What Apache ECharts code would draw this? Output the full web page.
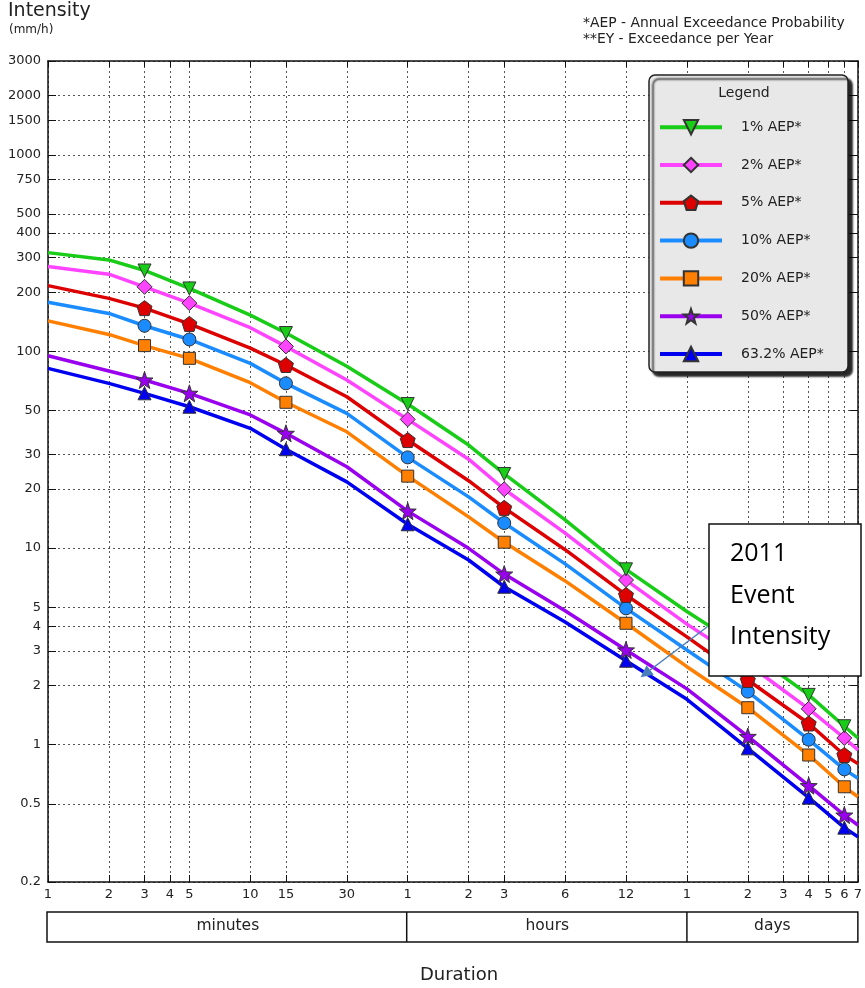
<!DOCTYPE html>
<html><head><meta charset="utf-8">
<script src="https://cdn.jsdelivr.net/npm/echarts@6/dist/echarts.min.js"></script>
<style>html,body{margin:0;padding:0;background:#fff}#c{width:865px;height:988px}</style>
</head><body><div id="c"></div>
<script>
// ---- data (durations in minutes, intensities in mm/h) ----
const durations = [1, 2, 3, 5, 10, 15, 30, 60, 120, 180, 360, 720, 1440, 2880, 5760, 8640, 10080];
const markerDurations = [3, 5, 15, 60, 180, 720, 2880, 5760, 8640];
const seriesNames = ['1% AEP*', '2% AEP*', '5% AEP*', '10% AEP*', '20% AEP*', '50% AEP*', '63.2% AEP*'];
const aep1   = [318, 292, 258, 209, 153, 124, 84, 54.0, 33.4, 23.8, 13.9, 7.79, 4.75, 3.0, 1.79, 1.24, 1.08];
const aep2   = [270, 247, 213, 176, 132, 106, 71.5, 45.1, 28.3, 19.9, 11.9, 6.87, 4.1, 2.57, 1.52, 1.08, 0.94];
const aep5   = [216, 186, 166, 138, 104, 85.3, 58.8, 35.4, 22.0, 16.0, 9.8, 5.77, 3.53, 2.13, 1.28, 0.885, 0.80];
const aep10  = [178, 156, 135, 115, 86.9, 68.8, 48.4, 28.9, 18.2, 13.4, 8.3, 4.93, 3.03, 1.86, 1.06, 0.748, 0.674];
const aep20  = [143, 122, 107, 92.2, 69.3, 55.1, 39.0, 23.2, 14.4, 10.7, 6.8, 4.14, 2.49, 1.54, 0.885, 0.61, 0.543];
const aep50  = [95.1, 79.5, 71.5, 61.2, 47.5, 38.3, 25.9, 15.4, 9.96, 7.37, 4.8, 3.03, 1.92, 1.10, 0.618, 0.438, 0.39];
const aep632 = [82.0, 68.8, 61.2, 52.3, 40.6, 31.8, 21.7, 13.2, 8.69, 6.35, 4.2, 2.67, 1.70, 0.957, 0.537, 0.378, 0.34];
const xTickValues = [1, 2, 3, 4, 5, 10, 15, 30, 60, 120, 180, 360, 720, 1440, 2880, 4320, 5760, 7200, 8640, 10080];
const yTickValues = [0.2, 0.5, 1, 2, 3, 4, 5, 10, 20, 30, 50, 100, 200, 300, 400, 500, 750, 1000, 1500, 2000, 3000];
const unitLabels = ['minutes', 'hours', 'days'];
const unitBounds = [1, 60, 1440, 10080];
const eventPoint = [850, 2.2];
const eventLabel = ['2011', 'Event', 'Intensity'];

// ---- styles ----
const PENTAGON = 'path://M0,-1L0.951,-0.309L0.588,0.809L-0.588,0.809L-0.951,-0.309Z';
const STAR = 'path://M0,-1L0.235,-0.324L0.951,-0.309L0.380,0.124L0.588,0.809L0,0.4L-0.588,0.809L-0.380,0.124L-0.951,-0.309L-0.235,-0.324Z';
const styles = [
  {color: '#18cc18', symbol: 'triangle', rotate: 180, size: 13},
  {color: '#ff44ff', symbol: 'diamond', rotate: 0, size: 15},
  {color: '#dd0000', symbol: PENTAGON, rotate: 0, size: 15},
  {color: '#1a8cff', symbol: 'circle', rotate: 0, size: 13},
  {color: '#ff7f00', symbol: 'rect', rotate: 0, size: 12},
  {color: '#9900ee', symbol: STAR, rotate: 0, size: 17},
  {color: '#0000f0', symbol: 'triangle', rotate: 0, size: 13}
];
const allValues = [aep1, aep2, aep5, aep10, aep20, aep50, aep632];
const FONT = 'DejaVu Sans';

function fmtNum(v) { return String(Number(Number(v).toPrecision(6))); }
function xLabel(v) {
  v = Math.round(v * 1000) / 1000;
  if (v < 60) return fmtNum(v);
  if (v < 1440) return fmtNum(v / 60);
  return fmtNum(v / 1440);
}

const series = seriesNames.map((name, k) => ({
  name: name,
  type: 'line',
  xAxisIndex: 0, yAxisIndex: 0,
  symbol: styles[k].symbol,
  symbolRotate: styles[k].rotate,
  symbolSize: styles[k].size,
  showSymbol: true,
  lineStyle: {color: styles[k].color, width: 3.5},
  itemStyle: {color: styles[k].color, borderColor: '#333', borderWidth: 1},
  emphasis: {disabled: true},
  z: 3 + (seriesNames.length - k) * 0.01,
  data: durations.map((d, i) => markerDurations.indexOf(d) >= 0
    ? [d, allValues[k][i]]
    : {value: [d, allValues[k][i]], symbol: 'none'})
}));

const axisLineStyle = {color: '#111', width: 1.5};
const gridLineStyle = {color: '#555', width: 1, type: [2, 3]};

const chart = echarts.init(document.getElementById('c'), null, {renderer: 'canvas'});
chart.setOption({
  animation: false,
  backgroundColor: '#fff',
  textStyle: {fontFamily: FONT},
  grid: {left: 48, right: 6, top: 61, bottom: 106, containLabel: false},
  xAxis: [{
    type: 'log', logBase: 10, min: 1, max: 10080, position: 'bottom',
    axisLine: {show: true, onZero: false, lineStyle: axisLineStyle},
    axisTick: {show: true, inside: true, length: 7, customValues: xTickValues, lineStyle: {color: '#111', width: 1}},
    axisLabel: {show: true, customValues: xTickValues, formatter: xLabel, fontSize: 13, color: '#222', margin: 6, fontFamily: FONT},
    splitLine: {show: true, lineStyle: gridLineStyle},
    minorTick: {show: false}, minorSplitLine: {show: false}
  }, {
    type: 'log', logBase: 10, min: 1, max: 10080, position: 'top',
    axisLine: {show: true, onZero: false, lineStyle: axisLineStyle},
    axisTick: {show: true, inside: true, length: 6, customValues: xTickValues, lineStyle: {color: '#111', width: 1}},
    axisLabel: {show: false},
    splitLine: {show: false}
  }],
  yAxis: [{
    type: 'log', logBase: 10, min: 0.2, max: 3000, position: 'left',
    axisLine: {show: true, onZero: false, lineStyle: axisLineStyle},
    axisTick: {show: true, inside: true, length: 8, customValues: yTickValues, lineStyle: {color: '#111', width: 1}},
    axisLabel: {show: true, customValues: yTickValues, formatter: fmtNum, fontSize: 13, color: '#222', margin: 7, fontFamily: FONT},
    splitLine: {show: true, lineStyle: gridLineStyle}
  }, {
    type: 'log', logBase: 10, min: 0.2, max: 3000, position: 'right',
    axisLine: {show: true, onZero: false, lineStyle: axisLineStyle},
    axisTick: {show: true, inside: true, length: 8, customValues: yTickValues, lineStyle: {color: '#111', width: 1}},
    axisLabel: {show: false},
    splitLine: {show: false}
  }],
  legend: {
    show: true, orient: 'vertical', left: 658, top: 119, z: 20,
    itemWidth: 62, itemHeight: 18, itemGap: 21.4, padding: 0,
    selectedMode: false,
    data: seriesNames,
    lineStyle: {width: 4},
    textStyle: {fontSize: 14, color: '#222', fontFamily: FONT, padding: [0, 0, 0, 14]}
  },
  series: series
});

// ---- annotations positioned from the axes ----
const px = v => chart.convertToPixel({xAxisIndex: 0}, v);
const py = v => chart.convertToPixel({yAxisIndex: 0}, v);
const bx = unitBounds.map(px);
const boxTop = 912, boxH = 30;
const graphics = [];
// title & notes
graphics.push({type: 'text', left: 8, top: 2, z: 30, style: {text: 'Intensity', font: '19px "DejaVu Sans"', fill: '#222'}});
graphics.push({type: 'text', left: 9, top: 24, z: 30, style: {text: '(mm/h)', font: '12px "DejaVu Sans"', fill: '#222'}});
graphics.push({type: 'text', left: 583, top: 16, z: 30, style: {text: '*AEP - Annual Exceedance Probability', font: '13.9px "DejaVu Sans"', fill: '#222'}});
graphics.push({type: 'text', left: 583, top: 32, z: 30, style: {text: '**EY - Exceedance per Year', font: '13.9px "DejaVu Sans"', fill: '#222'}});
// unit boxes
graphics.push({type: 'rect', z: 30, shape: {x: bx[0] - 1, y: boxTop, width: bx[3] - bx[0] + 1, height: boxH}, style: {fill: 'none', stroke: '#111', lineWidth: 1.5}});
const divX = [bx[1] - 1, bx[2]];
divX.forEach(x => {
  graphics.push({type: 'line', z: 30, shape: {x1: x, y1: boxTop, x2: x, y2: boxTop + boxH}, style: {stroke: '#111', lineWidth: 1.5}});
});
for (let i = 0; i < 3; i++) {
  const cx = (bx[i] + bx[i + 1]) / 2;
  graphics.push({type: 'text', x: cx, y: boxTop + boxH / 2 - 1, z: 30, style: {text: unitLabels[i], font: '15.5px "DejaVu Sans"', fill: '#222', align: 'center', verticalAlign: 'middle'}});
}
graphics.push({type: 'text', x: 459, y: 975, z: 30, style: {text: 'Duration', font: '18px "DejaVu Sans"', fill: '#222', align: 'center', verticalAlign: 'middle'}});
// legend box
graphics.push({type: 'rect', z: 15, shape: {x: 649, y: 75, width: 199, height: 297, r: 6},
  style: {fill: '#e8e8e8', stroke: '#222', lineWidth: 1.5, shadowColor: 'rgba(0,0,0,0.85)', shadowOffsetX: 4, shadowOffsetY: 4, shadowBlur: 2}});
graphics.push({type: 'text', x: 744, y: 93, z: 16, style: {text: 'Legend', font: '14px "DejaVu Sans"', fill: '#222', align: 'center', verticalAlign: 'middle'}});
// 2011 event callout
const ebx = 709, eby = 524, ebw = 152, ebh = 152;
graphics.push({type: 'rect', z: 25, shape: {x: ebx, y: eby, width: ebw, height: ebh}, style: {fill: '#fff', stroke: '#111', lineWidth: 1.5}});
eventLabel.forEach((t, i) => {
  graphics.push({type: 'text', x: 730, y: 554 + i * 41.5, z: 26, style: {text: t, font: '25px "Open Sans"', fill: '#000', verticalAlign: 'middle'}});
});
const tip = [px(eventPoint[0]), py(eventPoint[1])];
const tail = [ebx - 2, 627];
const dx = tip[0] - tail[0], dy = tip[1] - tail[1];
const len = Math.sqrt(dx * dx + dy * dy);
const ux = dx / len, uy = dy / len;
const headL = 12, headW = 6;
const base = [tip[0] - ux * headL, tip[1] - uy * headL];
graphics.push({type: 'line', z: 26, shape: {x1: tail[0], y1: tail[1], x2: base[0], y2: base[1]}, style: {stroke: '#4a7ebb', lineWidth: 1.5}});
graphics.push({type: 'polygon', z: 26, shape: {points: [tip, [base[0] - uy * headW, base[1] + ux * headW], [base[0] + uy * headW, base[1] - ux * headW]]}, style: {fill: '#4a7ebb'}});

chart.setOption({graphic: {elements: graphics}});
</script>
</body></html>
